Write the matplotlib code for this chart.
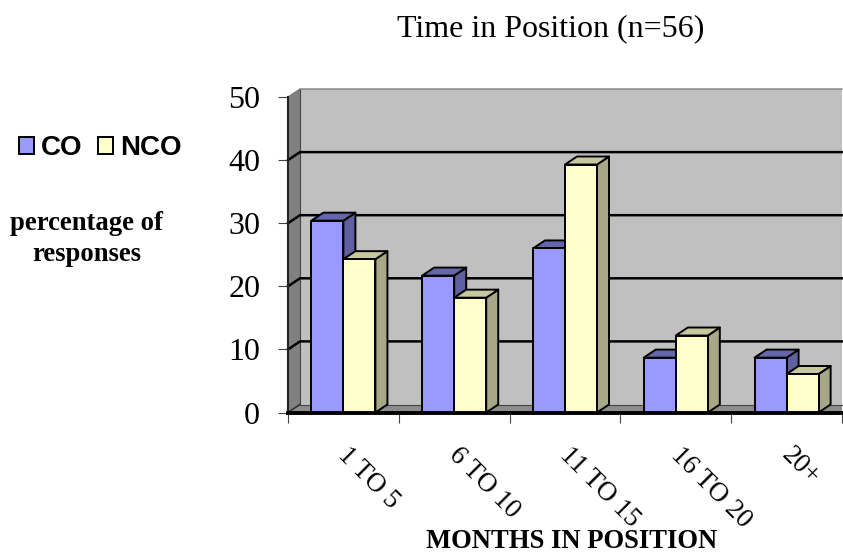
import matplotlib
matplotlib.use("Agg")
import matplotlib.pyplot as plt
from matplotlib.patches import Polygon, Patch

categories = ['1 TO 5', '6 TO 10', '11 TO 15', '16 TO 20', '20+']
co = [30.4, 21.7, 26.0, 8.7, 8.7]
nco = [24.3, 18.2, 39.3, 12.2, 6.1]
yticks = [0, 10, 20, 30, 40, 50]

W, H = 843, 554
plt.rcParams['font.family'] = ['Liberation Serif', 'DejaVu Serif']

fig = plt.figure(figsize=(W / 100, H / 100), dpi=100)
ax = fig.add_axes([288 / W, 1 - 412.5 / H, 554 / W, 315.5 / H])
ax.set_xlim(0, 5)
ax.set_ylim(0, 50)
ax.patch.set_visible(False)

# depth of the fake 3d box, in data units
dx = 12 / (554 / 5)
dy = 8 / (315.5 / 50)
bar_w = 0.289


def poly(points, color, z, edge='none', lw=0):
    ax.add_patch(Polygon(points, closed=True, facecolor=color, edgecolor=edge,
                         linewidth=lw, zorder=z, clip_on=False,
                         joinstyle='round'))


# walls and floor
poly([(dx, dy), (5, dy), (5, 50 + dy), (dx, 50 + dy)], '#C0C0C0', 1)
poly([(0, 0), (dx, dy), (dx, 50 + dy), (0, 50)], '#808080', 1)
poly([(0, 0), (5, 0), (5, dy), (dx, dy)], '#8C8C8C', 1)
ax.plot([0, 0], [0, 50], color='#222222', lw=1.5, zorder=3, clip_on=False)
ax.plot([dx, dx], [dy, 50 + dy], color='#444444', lw=0.8, zorder=2, clip_on=False)
ax.plot([0, dx, 5], [50, 50 + dy, 50 + dy], color='#808080', lw=1, zorder=2,
        clip_on=False)
ax.plot([dx, 5], [dy, dy], color='#444444', lw=0.8, zorder=2, clip_on=False)
ax.plot([0, dx], [0, dy], color='#222222', lw=1, zorder=2, clip_on=False)

# gridlines run along the back wall and down the left wall
for v in yticks[1:-1]:
    ax.plot([0, dx, 5], [v, v + dy, v + dy], color='black', lw=1.8, zorder=2,
            clip_on=False)


def bar3d(left, h, front, top, side, z):
    right = left + bar_w
    poly([(right, 0), (right + dx, dy), (right + dx, h + dy), (right, h)],
         side, z, 'black', 1.4)
    poly([(left, h), (right, h), (right + dx, h + dy), (left + dx, h + dy)],
         top, z, 'black', 1.4)
    poly([(left, 0), (right, 0), (right, h), (left, h)],
         front, z + 0.1, 'black', 1.4)


for i in range(len(categories)):
    bar3d(i + 0.5 - bar_w, co[i], '#9999FF', '#6666AA', '#6060A0', 4 + i)
    bar3d(i + 0.5, nco[i], '#FFFFCC', '#C8C8A0', '#A8A888', 4.5 + i)

ax.set_xticks(range(len(categories) + 1))
ax.set_xticklabels([])
ax.set_yticks(yticks)
ax.set_yticklabels([str(v) for v in yticks], fontsize=23)
ax.tick_params(axis='y', length=7, width=0.8, color='#444444', pad=13)
ax.tick_params(axis='x', length=7, width=0.8, color='#444444', pad=2)
for name in ['top', 'right', 'left']:
    ax.spines[name].set_visible(False)
ax.spines['bottom'].set_linewidth(2.8)
ax.spines['bottom'].set_zorder(20)

for i, c in enumerate(categories):
    ax.annotate(c, (i + 0.5, 0), xytext=(-1, -28), textcoords='offset points',
                rotation=-45, rotation_mode='anchor', ha='left', va='center',
                fontsize=19.5, annotation_clip=False)

fig.text(551 / W, 1 - 29 / H, 'Time in Position (n=56)', ha='center',
         va='center', fontsize=23)
fig.text(87 / W, 1 - 239 / H, 'percentage of\nresponses', ha='center',
         va='center', fontsize=19.2, fontweight='bold', linespacing=1.35)
fig.text(572 / W, 1 - 541 / H, 'MONTHS IN POSITION', ha='center', va='center',
         fontsize=19.2, fontweight='bold')

handles = [Patch(facecolor='#9999FF', edgecolor='black', linewidth=1.4, label='CO'),
           Patch(facecolor='#FFFFCC', edgecolor='black', linewidth=1.4, label='NCO')]
fig.legend(handles=handles, ncol=2, loc='center', bbox_to_anchor=(100 / W, 1 - 148 / H),
           frameon=False, handlelength=0.55, handleheight=0.55, handletextpad=0.25,
           columnspacing=0.55, borderpad=0,
           prop={'family': 'Liberation Sans', 'weight': 'bold', 'size': 20})

fig.savefig('out.png', dpi=100)
